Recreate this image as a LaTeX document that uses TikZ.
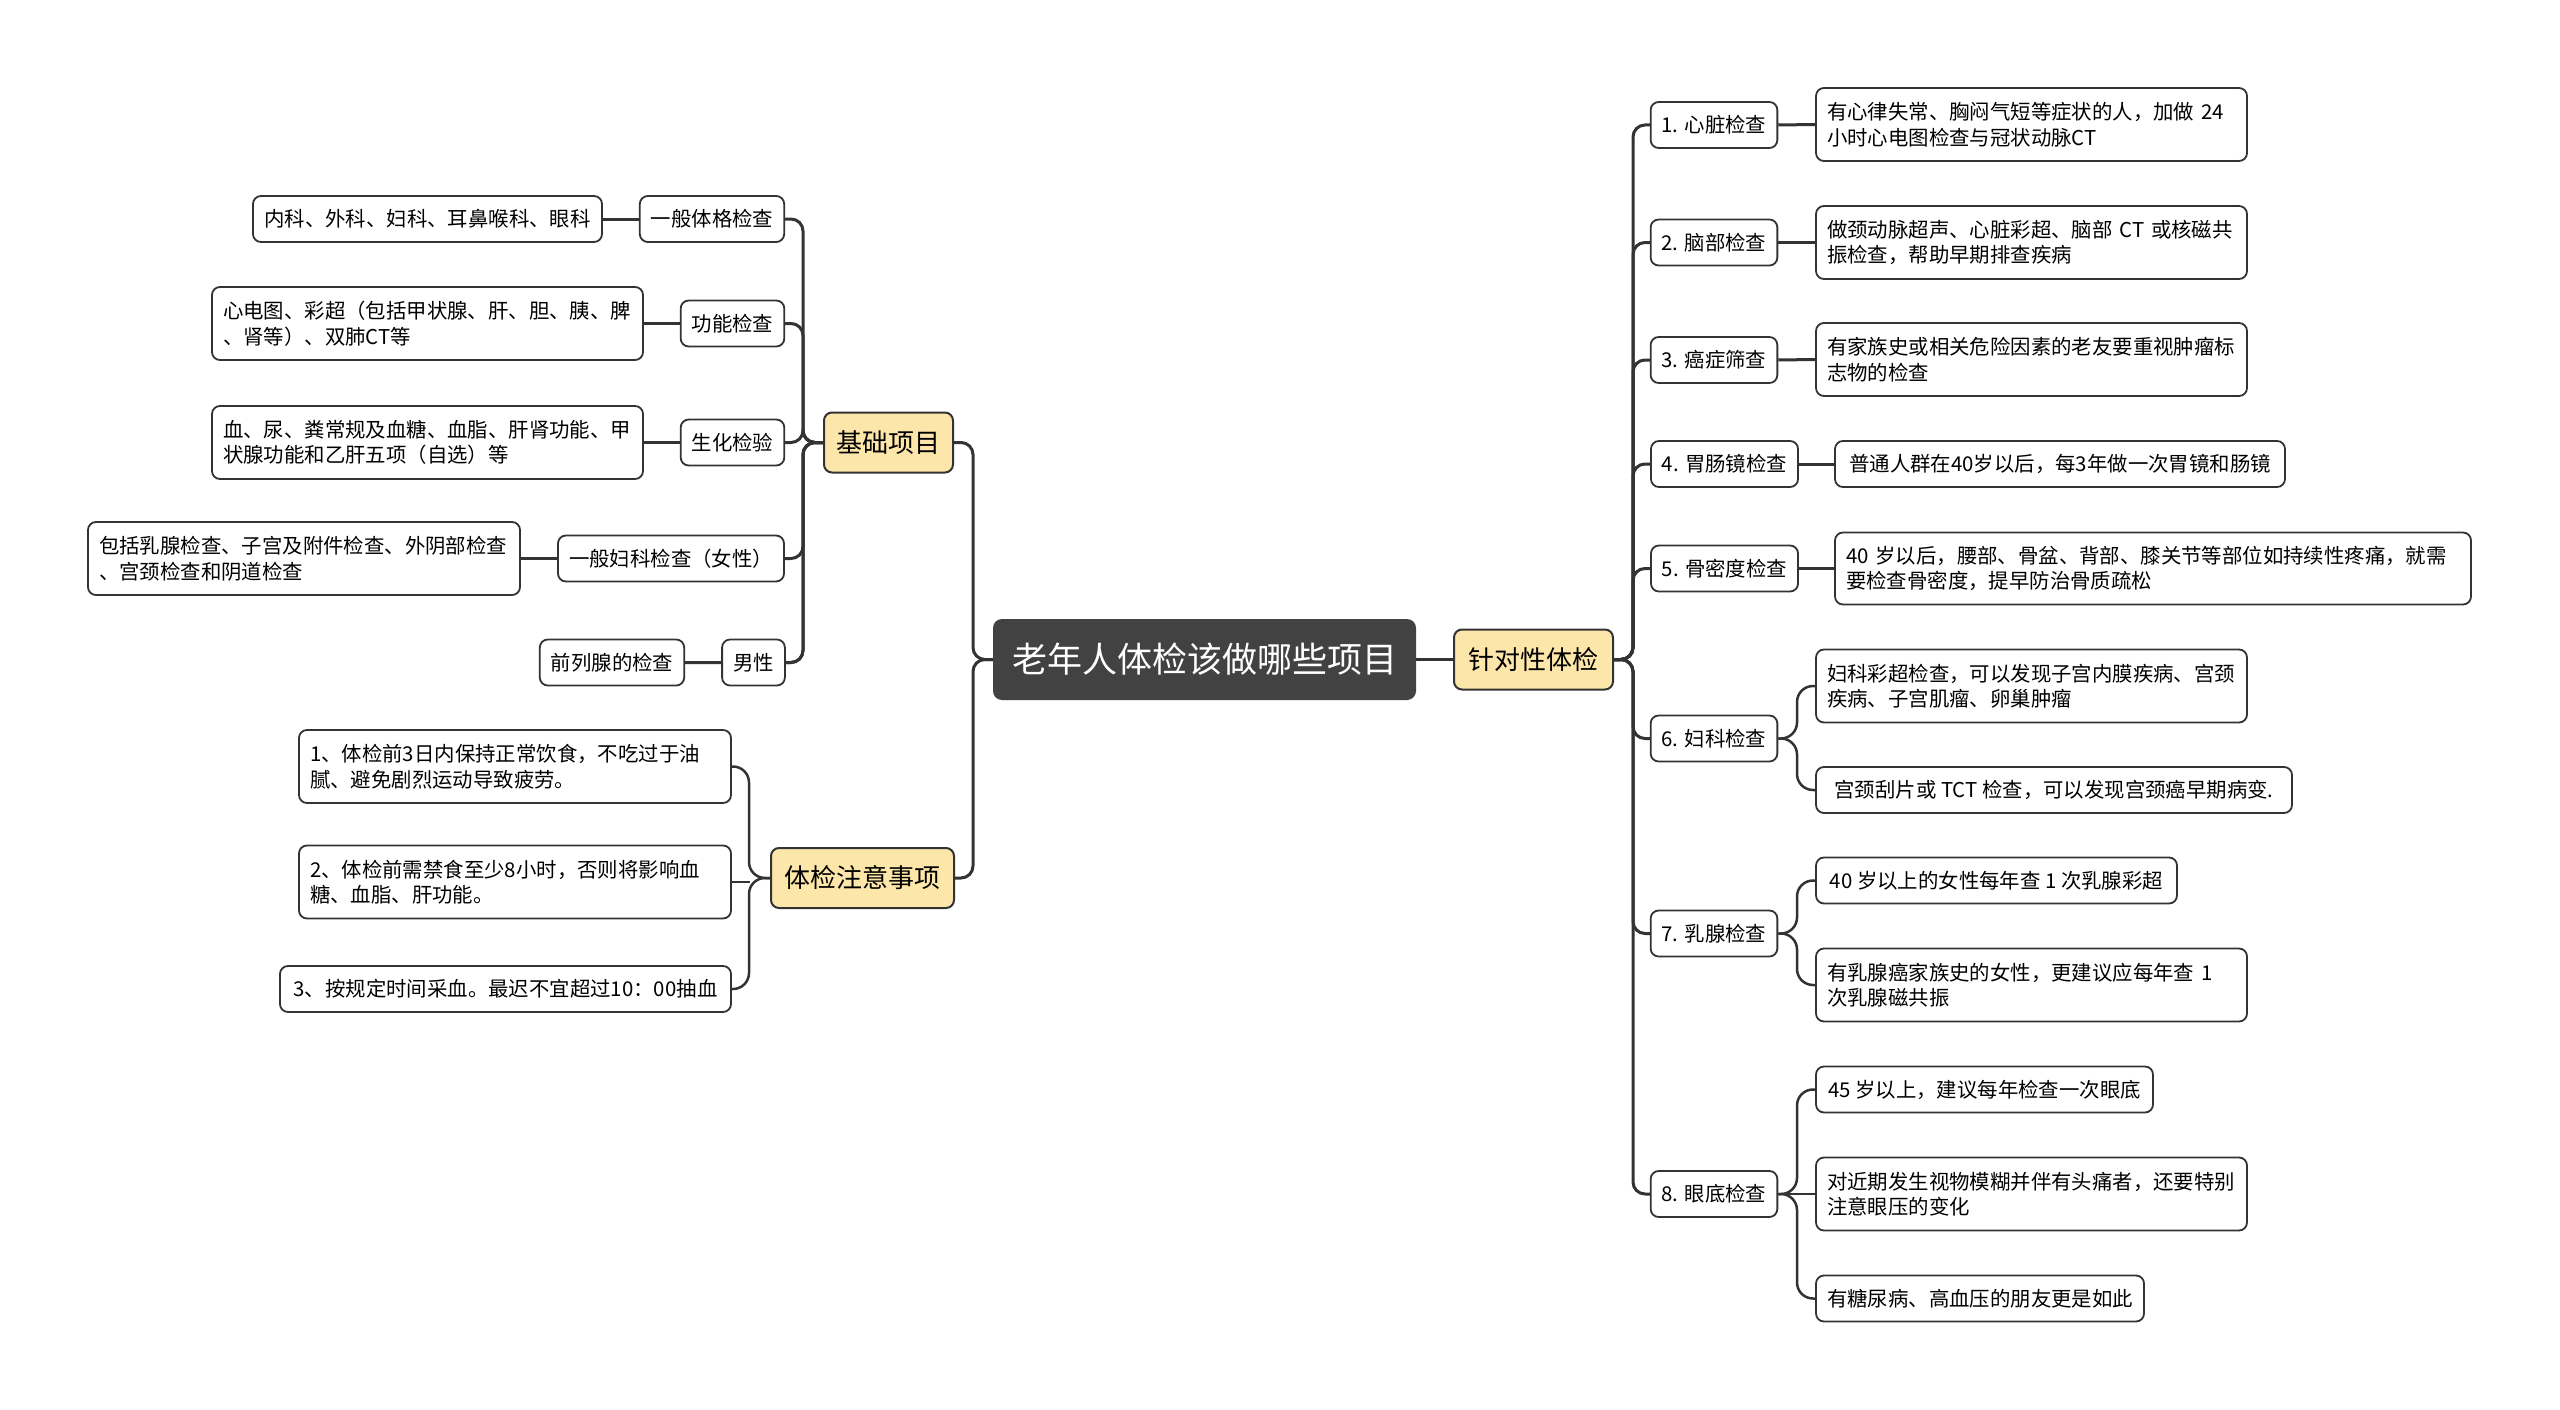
\documentclass[tikz,border=0pt]{standalone}
\usepackage{fontspec}
\setmainfont{Noto Sans CJK SC}
\usetikzlibrary{backgrounds}
\definecolor{lineC}{HTML}{333333}
\definecolor{darkC}{HTML}{424242}
\definecolor{beigeC}{HTML}{FDE6A9}
\begin{document}
\begin{tikzpicture}[x=1pt,y=-1pt,
  every node/.style={font=\fontsize{20.4}{25.5}\selectfont, text=black},
  leaf/.style={draw=lineC, line width=1.8pt, rounded corners=8pt, fill=white, inner xsep=11pt, inner ysep=0pt, minimum height=46pt, align=left},
  leaftwo/.style={leaf, minimum height=73pt},
  mid/.style={leaf, align=center},
  topic/.style={draw=lineC, line width=2pt, fill=beigeC, rounded corners=8pt, minimum height=60pt, inner xsep=12pt, font=\fontsize{26}{30}\selectfont},
  root/.style={fill=darkC, rounded corners=9pt, minimum height=81pt, inner xsep=19pt, text=white, font=\fontsize{35}{40}\selectfont},
  conn/.style={draw=lineC, line width=3pt, rounded corners=12pt},
  subconn/.style={draw=lineC, line width=2.5pt, rounded corners=16pt},
]
\useasboundingbox (0,0) rectangle (2560,1410);

% root and topics
\node[root, minimum width=423pt] (root) at (1204.5,659.5) {老年人体检该做哪些项目};
\node[topic, minimum width=129pt] (jichu) at (888.5,442.5) {基础项目};
\node[topic, minimum width=183pt] (zhuyi) at (862.5,878) {体检注意事项};
\node[topic, minimum width=159pt] (zhendui) at (1533.5,659.5) {针对性体检};

% left: basic items
\node[mid, minimum width=144pt] (b1) at (712,219) {一般体格检查};
\node[leaf, minimum width=349pt] (a1) at (427.5,219) {内科、外科、妇科、耳鼻喉科、眼科};
\node[mid, minimum width=103pt] (b2) at (732.5,323.5) {功能检查};
\node[leaftwo, text width=409pt] (a2) at (427.5,323.5) {心电图、彩超（包括甲状腺、肝、胆、胰、脾\\、肾等）、双肺CT等};
\node[mid, minimum width=103pt] (b3) at (732.5,442.5) {生化检验};
\node[leaftwo, text width=409pt] (a3) at (427.5,442.5) {血、尿、粪常规及血糖、血脂、肝肾功能、甲\\状腺功能和乙肝五项（自选）等};
\node[mid, minimum width=226pt] (b4) at (671,558.5) {一般妇科检查（女性）};
\node[leaftwo, text width=410pt] (a4) at (304,558.5) {包括乳腺检查、子宫及附件检查、外阴部检查\\、宫颈检查和阴道检查};
\node[mid, minimum width=61pt] (b6) at (753.5,662.5) {男性};
\node[mid, minimum width=144pt] (b5) at (612,662.5) {前列腺的检查};

% left: notes
\node[leaftwo, text width=410pt] (c1) at (515,766.5) {1、体检前3日内保持正常饮食，不吃过于油\\腻、避免剧烈运动导致疲劳。};
\node[leaftwo, text width=410pt] (c2) at (515,882) {2、体检前需禁食至少8小时，否则将影响血\\糖、血脂、肝功能。};
\node[leaf, minimum width=451pt] (c3) at (505.5,989) {3、按规定时间采血。最迟不宜超过10：00抽血};

% right: targeted
\node[mid, minimum width=124pt] (r1) at (1714,125) {1. 心脏检查};
\node[mid, minimum width=124pt] (r2) at (1714,242.5) {2. 脑部检查};
\node[mid, minimum width=124pt] (r3) at (1714,360) {3. 癌症筛查};
\node[mid, minimum width=145pt] (r4) at (1724.5,464) {4. 胃肠镜检查};
\node[mid, minimum width=145pt] (r5) at (1724.5,568.5) {5. 骨密度检查};
\node[mid, minimum width=124pt] (r6) at (1714,738.5) {6. 妇科检查};
\node[mid, minimum width=124pt] (r7) at (1714,933.5) {7. 乳腺检查};
\node[mid, minimum width=124pt] (r8) at (1714,1194) {8. 眼底检查};

\node[leaftwo, text width=409pt] (d1) at (2031.5,124.5) {有心律失常、胸闷气短等症状的人，加做 24\\小时心电图检查与冠状动脉CT};
\node[leaftwo, text width=409pt] (d2) at (2031.5,242.5) {做颈动脉超声、心脏彩超、脑部 CT 或核磁共\\振检查，帮助早期排查疾病};
\node[leaftwo, text width=409pt] (d3) at (2031.5,359.5) {有家族史或相关危险因素的老友要重视肿瘤标\\志物的检查};
\node[leaf, minimum width=450pt] (d4) at (2060,464) {普通人群在40岁以后，每3年做一次胃镜和肠镜};
\node[leaftwo, text width=614pt, minimum height=72pt] (d5) at (2153,568.5) {40 岁以后，腰部、骨盆、背部、膝关节等部位如持续性疼痛，就需\\要检查骨密度，提早防治骨质疏松};
\node[leaftwo, text width=409pt] (d6a) at (2031.5,686) {妇科彩超检查，可以发现子宫内膜疾病、宫颈\\疾病、子宫肌瘤、卵巢肿瘤};
\node[leaf, minimum width=476pt] (d6b) at (2054,790) {宫颈刮片或 TCT 检查，可以发现宫颈癌早期病变.};
\node[leaf, minimum width=361pt] (d7a) at (1996.5,880.5) {40 岁以上的女性每年查 1 次乳腺彩超};
\node[leaftwo, text width=409pt] (d7b) at (2031.5,985) {有乳腺癌家族史的女性，更建议应每年查 1\\次乳腺磁共振};
\node[leaf, minimum width=337pt] (d8a) at (1984.5,1089.5) {45 岁以上，建议每年检查一次眼底};
\node[leaftwo, text width=409pt] (d8b) at (2031.5,1194) {对近期发生视物模糊并伴有头痛者，还要特别\\注意眼压的变化};
\node[leaf, minimum width=328pt] (d8c) at (1980,1298.5) {有糖尿病、高血压的朋友更是如此};

\begin{pgfonlayer}{background}
\fill[white] (0,0) rectangle (2560,1410);
% connectors: root
\draw[conn] (root.west) -- (973,659.5) |- (jichu.east);
\draw[conn] (root.west) -- (973,659.5) |- (zhuyi.east);
\draw[conn] (root.east) -- (zhendui.west);

% basic items
\foreach \n in {b1,b2,b3,b4,b5,b6} \draw[conn] (jichu.west) -- (803,442.5) |- (\n.east);
\draw[conn] (b1.west) -- (a1.east);
\draw[conn] (b2.west) -- (a2.east);
\draw[conn] (b3.west) -- (a3.east);
\draw[conn] (b4.west) -- (a4.east);
\draw[conn] (b6.west) -- (b5.east);

% notes
\draw[subconn] (zhuyi.west) -- (749,878) |- (c1.east);
\draw[subconn] (zhuyi.west) -- (749,878) |- (c3.east);
\draw[subconn, rounded corners=0pt] (c2.east) -- ++(18,0);

% targeted
\foreach \n in {r1,r2,r3,r4,r5,r6,r7,r8} \draw[conn] (zhendui.east) -- (1633,659.5) |- (\n.west);
\draw[conn] (r1.east) -- (d1.west);
\draw[conn] (r2.east) -- (d2.west);
\draw[conn] (r3.east) -- (d3.west);
\draw[conn] (r4.east) -- (d4.west);
\draw[conn] (r5.east) -- (d5.west);
\draw[subconn] (r6.east) -- (1797,738.5) |- (d6a.west);
\draw[subconn] (r6.east) -- (1797,738.5) |- (d6b.west);
\draw[subconn] (r7.east) -- (1797,933.5) |- (d7a.west);
\draw[subconn] (r7.east) -- (1797,933.5) |- (d7b.west);
\draw[subconn] (r8.east) -- (1797,1194) |- (d8a.west);
\draw[subconn] (r8.east) -- (d8b.west);
\draw[subconn] (r8.east) -- (1797,1194) |- (d8c.west);
\end{pgfonlayer}
\end{tikzpicture}
\end{document}
